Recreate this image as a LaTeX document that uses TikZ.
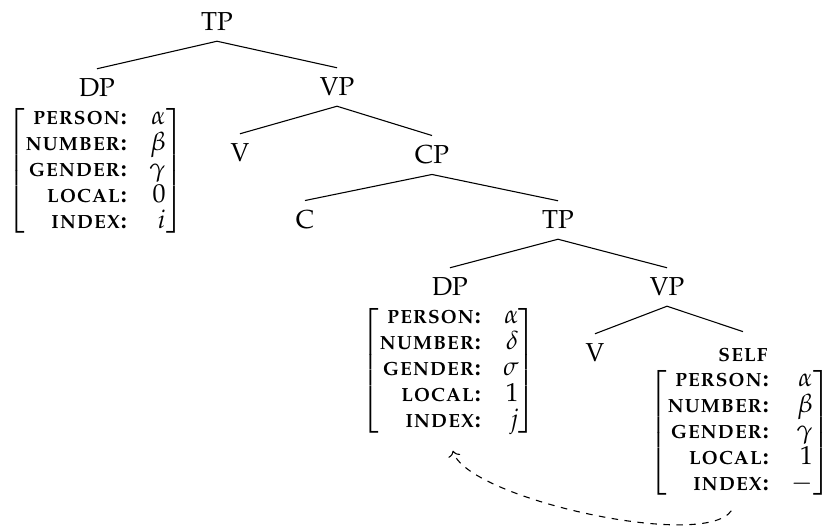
\documentclass[tikz,border=0pt]{standalone}
\usepackage[T1]{fontenc}
\usepackage{mathpazo}
\usepackage{amsmath}
\usepackage{tikz}
\usetikzlibrary{positioning, arrows.meta, calc}

% feature labels and structures
\newcommand{\ftname}[1]{{\fontsize{11}{12}\selectfont\textbf{\textsc{#1}}}}
\newcommand{\fstruct}[5]{$\renewcommand{\arraystretch}{0.83}%
\left[\begin{array}{@{}r@{\hspace{10pt}}r@{}}
  \ftname{person:} & #1\\
  \ftname{number:} & #2\\
  \ftname{gender:} & #3\\
  \ftname{local:}  & #4\\
  \ftname{index:}  & #5
\end{array}\right]$}

\begin{document}
\begin{tikzpicture}[x=0.4615pt, y=-0.4615pt,
  cat/.style={font=\fontsize{12}{14}\selectfont, inner xsep=2pt, inner ysep=4.5pt},
  avm/.style={font=\fontsize{12}{14.4}\selectfont, inner sep=0pt},
  branch/.style={draw, line width=0.5pt},
  bind/.style={draw, dashed, line width=0.5pt, ->, shorten <=7pt, shorten >=7pt},
]
\useasboundingbox (0,0) rectangle (822,527);

% Categories
\node[cat] (tp0) at (217, 22) {TP};
\node[cat] (dpa) at (97, 88) {DP};
\node[cat] (vpa) at (337, 87) {VP};
\node[cat] (va) at (240, 153) {V};
\node[cat] (cpa) at (432, 155) {CP};
\node[cat] (ca) at (305, 220) {C};
\node[cat] (tpb) at (558, 220) {TP};
\node[cat] (dpb) at (450, 287) {DP};
\node[cat] (vpb) at (667, 287) {VP};
\node[cat] (vb) at (595, 353) {V};
\node[avm, inner ysep=4.5pt] (selfb) at (743, 355) {\ftname{self}};

% Feature structures
\node[avm] (avma) at (95.5, 171) {\fstruct{\alpha}{\beta}{\gamma}{0}{i}};
\node[avm] (avmb) at (449, 370.5) {\fstruct{\alpha}{\delta}{\sigma}{1}{j}};
\node[avm] (avmc) at (740, 433) {\fstruct{\alpha}{\beta}{\gamma}{1}{-}};

% Branches
\draw[branch] (tp0.south) -- (dpa.north);
\draw[branch] (tp0.south) -- (vpa.north);
\draw[branch] (vpa.south) -- (va.north);
\draw[branch] (vpa.south) -- (cpa.north);
\draw[branch] (cpa.south) -- (ca.north);
\draw[branch] (cpa.south) -- (tpb.north);
\draw[branch] (tpb.south) -- (dpb.north);
\draw[branch] (tpb.south) -- (vpb.north);
\draw[branch] (vpb.south) -- (vb.north);
\draw[branch] (vpb.south) -- ([yshift=3pt]selfb.north);

% Binding
\draw[bind] (avmc.south) to[out=-125, in=-75, looseness=0.55] (avmb.south);
\end{tikzpicture}
\end{document}
